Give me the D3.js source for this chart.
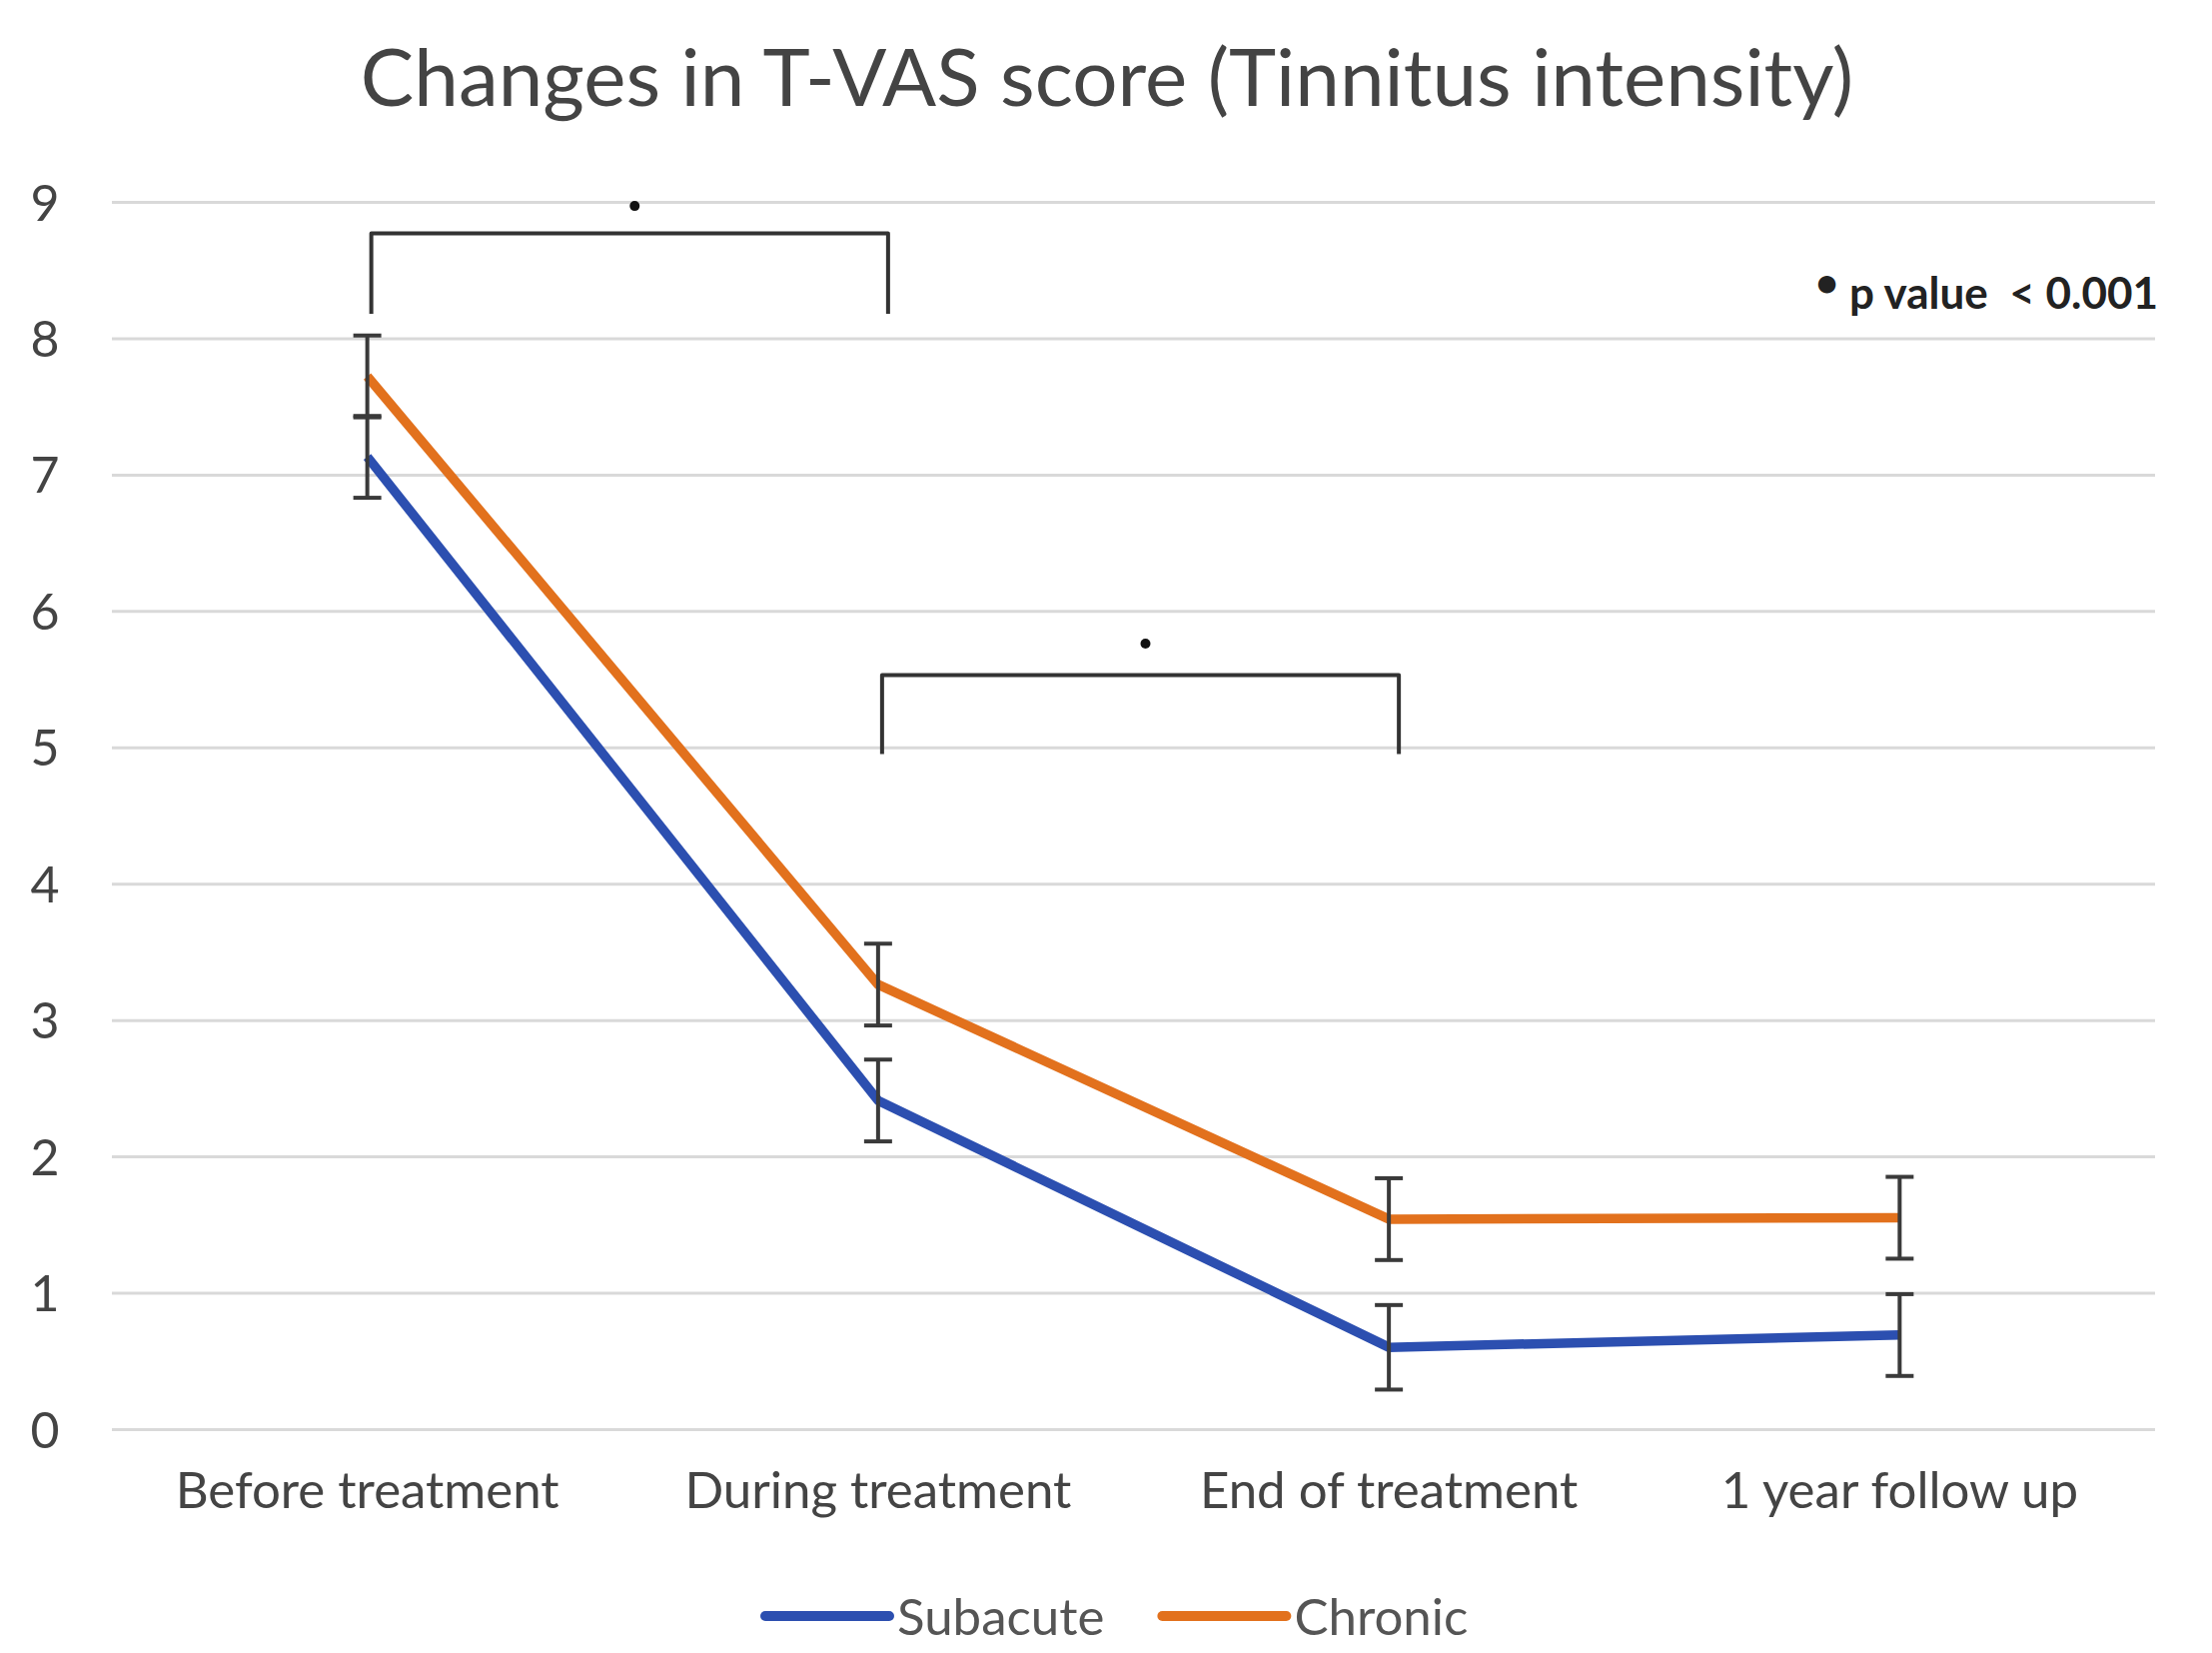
<!DOCTYPE html>
<html>
<head>
<meta charset="utf-8">
<script src="https://cdn.jsdelivr.net/npm/d3@7"></script>
<style>
    html, body { margin: 0; padding: 0; background: #fff; }
    svg { display: block; font-family: Lato, "Open Sans", sans-serif; }
</style>
</head>
<body>
<svg id="chart" width="2214" height="1654"></svg>
<script>
// data
const categories = ['Before treatment', 'During treatment', 'End of treatment', '1 year follow up']
const subacute = [7.13, 2.41, 0.60, 0.69]
const chronic = [7.72, 3.26, 1.54, 1.55]
const subacuteErr = [0.30, 0.30, 0.31, 0.30]
const chronicErr = [0.30, 0.30, 0.30, 0.30]
const yTicks = [0, 1, 2, 3, 4, 5, 6, 7, 8, 9]

// significance brackets: from / to category, top and leg-bottom values, star height
const brackets = [
    { from: 'Before treatment', to: 'During treatment', top: 8.77, bottom: 8.18, star: 8.97 },
    { from: 'During treatment', to: 'End of treatment', top: 5.53, bottom: 4.95, star: 5.76 }
]

const series = [
    { name: 'Subacute', values: subacute, err: subacuteErr, color: '#2c4fb0' },
    { name: 'Chronic', values: chronic, err: chronicErr, color: '#e2711d' }
]

const svg = d3.select('#chart')
const textColor = '#444'

const x = d3.scaleBand().domain(categories).range([112, 2157])
const cx = d => x(d) + x.bandwidth() / 2
const y = d3.scaleLinear().domain([0, 9]).range([1430, 202])

// title
svg.append('text')
    .attr('x', 1108)
    .attr('y', 106)
    .attr('text-anchor', 'middle')
    .attr('font-size', 80)
    .attr('fill', textColor)
    .text('Changes in T-VAS score (Tinnitus intensity)')

// y axis + gridlines
const yAxis = svg.append('g')
    .attr('transform', 'translate(112,0)')
    .call(d3.axisLeft(y).tickValues(yTicks).tickSize(-(2157 - 112)).tickFormat(d3.format('d')))

yAxis.select('.domain').remove()
yAxis.selectAll('.tick line')
    .attr('stroke', '#d9d9d9')
    .attr('stroke-width', 3)
yAxis.selectAll('.tick text')
    .attr('x', -67)
    .attr('dy', '0.36em')
    .attr('text-anchor', 'middle')
    .attr('font-size', 50)
    .attr('font-family', 'Lato, sans-serif')
    .attr('fill', textColor)

// x axis labels
const xAxis = svg.append('g')
    .attr('transform', 'translate(0,1430)')
    .call(d3.axisBottom(x).tickSize(0))

xAxis.select('.domain').remove()
xAxis.selectAll('.tick text')
    .attr('y', 79)
    .attr('dy', 0)
    .attr('font-size', 51)
    .attr('font-family', 'Lato, sans-serif')
    .attr('fill', textColor)

// lines
const line = d3.line()
    .x((d, i) => cx(categories[i]))
    .y(d => y(d))

svg.append('g')
    .selectAll('path')
    .data(series)
    .enter().append('path')
    .attr('d', d => line(d.values))
    .attr('fill', 'none')
    .attr('stroke', d => d.color)
    .attr('stroke-width', 9.5)
    .attr('stroke-linejoin', 'round')

// error bars on top of the lines
const errData = []
series.forEach(s => {
    s.values.forEach((v, i) => {
        errData.push({ cat: categories[i], lo: v - s.err[i], hi: v + s.err[i] })
    })
})

const errG = svg.append('g')
    .attr('stroke', '#3a3a3a')
    .attr('stroke-width', 4)

errG.selectAll('.err-v')
    .data(errData)
    .enter().append('line')
    .attr('class', 'err-v')
    .attr('x1', d => cx(d.cat))
    .attr('x2', d => cx(d.cat))
    .attr('y1', d => y(d.lo))
    .attr('y2', d => y(d.hi))

errG.selectAll('.err-cap')
    .data(errData.flatMap(d => [{ cat: d.cat, v: d.lo }, { cat: d.cat, v: d.hi }]))
    .enter().append('line')
    .attr('class', 'err-cap')
    .attr('x1', d => cx(d.cat) - 14)
    .attr('x2', d => cx(d.cat) + 14)
    .attr('y1', d => y(d.v))
    .attr('y2', d => y(d.v))

// significance brackets
const brG = svg.append('g')

brG.selectAll('path')
    .data(brackets)
    .enter().append('path')
    .attr('d', d => {
        const x1 = cx(d.from) + 4
        const x2 = cx(d.to) + 10
        return `M${x1},${y(d.bottom)}V${y(d.top)}H${x2}V${y(d.bottom)}`
    })
    .attr('fill', 'none')
    .attr('stroke', '#333')
    .attr('stroke-width', 4)
    .attr('stroke-linejoin', 'round')

brG.selectAll('circle')
    .data(brackets)
    .enter().append('circle')
    .attr('cx', d => (cx(d.from) + cx(d.to)) / 2 + 12)
    .attr('cy', d => y(d.star))
    .attr('r', 5)
    .attr('fill', '#111')

// p value note
const note = svg.append('text')
    .attr('x', 2160)
    .attr('y', 309)
    .attr('text-anchor', 'end')
    .attr('font-size', 44)
    .attr('font-weight', 'bold')
    .attr('fill', '#222')
note.append('tspan')
    .attr('dy', -12)
    .attr('font-size', 40)
    .text('•')
note.append('tspan')
    .attr('dy', 12)
    .attr('xml:space', 'preserve')
    .text(' p value  < 0.001')

// legend
const legend = svg.append('g')
let lx = 766
series.forEach(s => {
    legend.append('line')
        .attr('x1', lx)
        .attr('x2', lx + 124)
        .attr('y1', 1617)
        .attr('y2', 1617)
        .attr('stroke', s.color)
        .attr('stroke-width', 10)
        .attr('stroke-linecap', 'round')
    const t = legend.append('text')
        .attr('x', lx + 132)
        .attr('y', 1636)
        .attr('font-size', 51)
        .attr('fill', '#555')
        .text(s.name)
    lx += 132 + t.node().getComputedTextLength() + 58
})
</script>
</body>
</html>
